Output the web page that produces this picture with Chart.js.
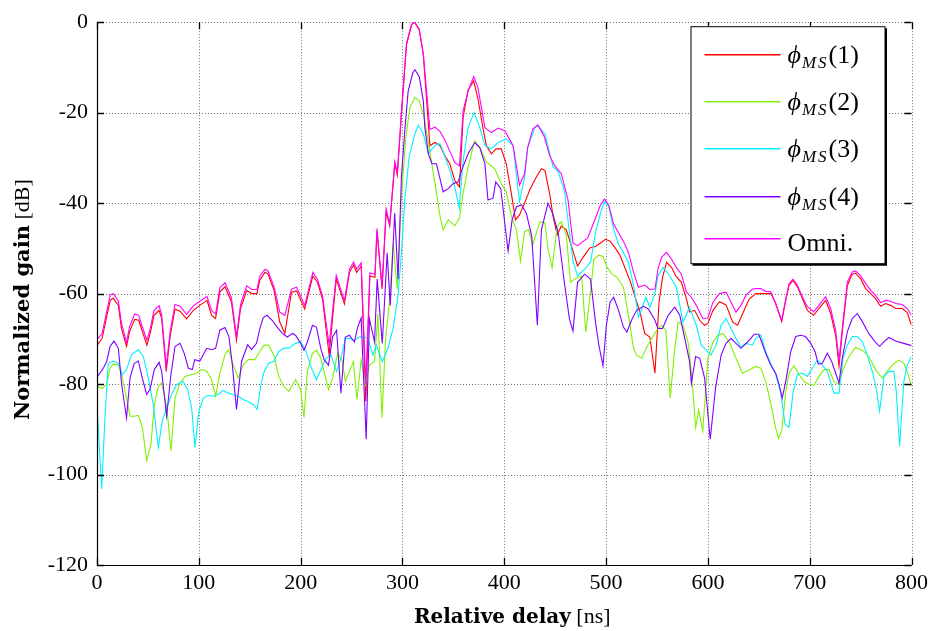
<!DOCTYPE html>
<html><head><meta charset="utf-8">
<script src="https://cdn.jsdelivr.net/npm/chart.js@4.4.0/dist/chart.umd.min.js"></script>
<style>html,body{margin:0;padding:0;background:#fff;}#wrap{width:933px;height:631px;}</style>
</head><body><div id="wrap"><canvas id="c" width="933" height="631"></canvas></div>
<script>
// ---- data ----
const delay1 = [0,5,13,16,21,24,29,32,37,41,44,49,52,56,61,63.5,68,72,76.6,81.5,88,94.6,101,108,112.6,116.5,120.7,125.7,132,137,141,147,152,157,160,165,168,174,179.5,184.5,191,196,204,212,216.5,221.5,228,235,243,248,252,255,259.5,264,268,273,275,280,284,287.5,292.5,295,299,304,309,312,316.5,320.5,324,327,332,337,341.6,346.5,351.4,356,359.6,364.5,370,374,379,382.5,387.4,392,397,402,407,411,415,420,425,431.5,436.5,440,444.6,448,452,456,461,466,472,477,484,489.6,494.5,499.4,504,509,514,519,523.7,528.6,533.4,538,543,548,552,555.5,559.4,564.3,568.5,574,579,582,587,592,596.8,600,605,611.4,617.9,624.4,629.2,634,640.6,647,652,657,662,666.6,672.5,676.5,679.7,683.6,688,692.8,697.7,704,709,715.7,720.6,725.5,728.8,732.7,737,741.8,745,750,755,760,764.7,769.7,774.5,779.5,784.4,791,795.8,800];
const gain1 = [-71.5,-69.9,-61.5,-61,-62.6,-67.7,-71.7,-68.4,-65.7,-65.9,-68,-71.4,-69,-64.8,-63.7,-65.5,-77.2,-69.2,-63.4,-63.9,-65.6,-63.7,-62.6,-61.5,-64.8,-65.5,-59.6,-58.5,-61.8,-70.3,-63.3,-59.3,-60,-60,-57,-55.3,-55.7,-59.4,-66.3,-68.8,-59.7,-59.4,-63.4,-56.1,-57.5,-61.2,-73.6,-56.8,-62.3,-55.3,-53.7,-55.3,-53.9,-83.8,-56.1,-56.4,-46.2,-59,-41.9,-45.1,-31.3,-33.8,-20.4,-5,-0.6,0,-1.7,-7.2,-18,-27.3,-26.6,-27.3,-29.5,-31.3,-35,-36.4,-21,-15,-13,-16.7,-23.3,-27.3,-29.1,-28,-28,-31.3,-37.9,-43.7,-42.6,-40,-37.1,-34.2,-32.4,-32.8,-37.9,-43,-47,-45.1,-45.9,-49.5,-53.9,-52.1,-49.9,-49.6,-48.8,-48,-48.4,-49.9,-51.7,-54.6,-57.2,-60.8,-64.1,-68.8,-69.6,-77.6,-61.9,-56.4,-53.1,-54.2,-56.1,-57.5,-61.2,-64.1,-63.7,-65.9,-67,-66.6,-63.7,-61.8,-62.5,-66.3,-67,-64.5,-61.2,-60,-60,-60,-60,-62.2,-66.2,-61.5,-58.2,-57.1,-58.5,-61.1,-63.7,-64.8,-63.3,-61.5,-64.4,-69.2,-76.1,-67,-58.2,-55.7,-55.5,-56.7,-58.9,-60,-61.1,-62.8,-62.2,-62.6,-63.3,-63.3,-64.2,-67];

const delay2 = [0,5,9.5,12.8,16,21,24.2,29,32.4,36.6,40.6,44.5,48.8,53,56.3,60.2,63.5,68.4,72.6,76.6,81.5,86.4,93,97.8,102.7,107.7,112.6,116.5,120.7,125.7,129,133.8,138.7,143.7,148.6,155,160,164,168.6,173.6,178.5,183.5,188.5,195,200,203.3,206.6,211.6,215.5,219.8,223,227.4,231.4,236.3,240.6,243.9,247.9,251.8,255.4,259.4,263.7,267.6,272.6,275.9,279.9,283.5,287.5,290.8,295,299,303.3,307.3,312.2,316.5,320.5,322,327,332,337,340,345,351.4,356,359.6,364.5,371,376,382.5,390.7,397,402,407,412,416,420,424,428,435,440,443,447,452,456,461,465,469,476,480,484,488,492.9,497,501,505.8,510.7,517,522,527,530,535,540,545,549.7,554.5,558.8,563,567.5,570.8,575.6,580.5,583.8,588,591,595,600,605,609.7,614.6,621,627.6,634,640.6,647,652,656.8,661.7,666.6,669.3,672.5,676.5,679.7,684.6,689.5,694.4,699.3,704,709,714,718.9,723.9,728.8,732.7,738.6,745,751.7,758,764.7,771.3,776.2,781,787.6,792.5,796.8,800];
const gain2 = [-80.5,-81,-80.1,-76.5,-75.6,-75.7,-77.9,-83.1,-87.1,-87.1,-86.9,-89.6,-97,-93.3,-84.5,-80.5,-79.8,-84.9,-94.8,-83.1,-79.8,-78.3,-77.9,-77.6,-76.8,-77.1,-79,-82.7,-77.6,-73.5,-72.4,-75.7,-78.7,-75.7,-74.6,-74.6,-72.8,-71.4,-71.4,-73.6,-78.3,-80.5,-81.6,-79,-81.2,-87.4,-77.2,-73.2,-72.5,-74.3,-77.2,-81.2,-78.7,-73.2,-74.7,-79.4,-77.2,-75,-83.4,-74.7,-80.1,-75.8,-75,-64.5,-87.4,-69.9,-61.2,-48.8,-59,-38.6,-25.5,-18.9,-16.6,-17.4,-20.4,-21.8,-28.8,-35.7,-43,-45.9,-43.7,-45,-43.3,-37.9,-32,-26.2,-27.7,-30.9,-32.4,-35.7,-37.5,-43,-45.9,-52.8,-46.3,-45.9,-49.2,-44.1,-44.4,-50.2,-54.3,-45.1,-44.1,-47,-57.5,-56.8,-56.1,-68.5,-61.2,-52.4,-51.5,-51.8,-54.2,-55.7,-56.4,-58.6,-64.8,-72.1,-73.6,-74.3,-71.8,-69.9,-68.1,-67,-68.1,-83.1,-72.1,-66.3,-67,-70.7,-77.2,-89.6,-85.8,-90.4,-74.3,-70.7,-69.2,-68.8,-70.7,-74.3,-77.6,-76.9,-76.1,-76.5,-79.4,-84.2,-89.7,-92,-90.4,-81.6,-77.6,-75.9,-77.9,-79.4,-80.1,-80.3,-78.3,-76.8,-76.8,-79.4,-80.1,-76.8,-73.9,-71.9,-72.5,-73.9,-76.8,-78.7,-77.2,-75.8,-74.7,-75.4,-77.9,-80.5];

const delay3 = [0,4.6,7.8,11,16,21,24.9,29,34,40.6,45.5,50.4,55.3,60.2,64.1,68.4,73.3,78.2,84.7,89,93,96.2,100,104.4,109.3,114.2,119.1,124,129,133.8,138.7,143.7,148.6,153.5,157.4,161,164.3,168.6,173.6,178.5,183.5,188.5,195,200,205,210,215.5,219.8,224.8,229.7,235.3,239.6,243.9,247.9,252.8,257.8,262.7,266,271,274.3,280.2,285.8,290.8,295.7,299,302.3,306.6,312.2,315.6,320.5,325.4,329,333.4,337,341.6,346.5,351.4,355.7,359.6,364.5,370.4,376,381,387.4,394,402,408.7,415,420,423,430,433,440,448,453,459,467.5,472,479,484.7,489.6,494.5,498.4,502.6,507.5,512.3,517,522,527,531.8,535,539,543,548,551,556,562.6,569,575.6,582,588.6,593.5,598.4,603,608,613,617.9,622.7,627.6,632.5,637.3,643.8,647,652,656.8,661.7,666.6,671.6,675.8,679.7,683.6,687.9,692.8,697.7,702.6,707.5,712.4,717.3,723.9,728.8,732.7,737,741.8,746.8,751.7,756.6,761.5,765.4,768.7,773,777.8,782.7,785,788.3,792.5,795.8,800];
const gain3 = [-84.5,-103.2,-87.5,-75.4,-74.9,-75.4,-77.9,-76.8,-73.5,-72.4,-73.9,-78.7,-84.5,-94,-88.2,-85.3,-82.3,-80.1,-79.4,-81.2,-85.3,-94,-86,-83.1,-82.5,-82.7,-82.3,-81.4,-82,-82.3,-82.7,-83.4,-83.9,-84.5,-85.6,-80.1,-77.2,-75.4,-75,-72.8,-72.1,-72,-71,-70.7,-72.5,-76.1,-79,-76.9,-74.3,-73.6,-77.2,-74.3,-69.9,-69.9,-70.3,-69.6,-69.6,-69.9,-73.6,-71.4,-75,-72.1,-67.7,-60.5,-51,-39.3,-29.8,-24.7,-22.8,-24.7,-29.1,-28,-27,-26.9,-29.5,-32.8,-36.4,-41.1,-30.6,-23.3,-20,-23.3,-27.3,-28,-26.6,-25.8,-27.3,-39.7,-34.2,-27.7,-23.3,-22.9,-24.7,-32,-33.1,-37.1,-52.8,-56.1,-54.6,-53.1,-46.6,-42.2,-39.6,-40.7,-45.8,-49.1,-50.9,-53.1,-58.2,-65.2,-63.4,-60.8,-63,-60,-56.1,-54.2,-56.1,-58.6,-66.3,-63,-67,-71.4,-72.5,-73.6,-71.4,-67,-65.5,-67.7,-69.9,-71.8,-71,-71.4,-69.9,-69.2,-72.8,-75.4,-77.9,-82,-88.9,-89.6,-82,-77.9,-77.6,-78.3,-76.5,-74.7,-75.8,-77.2,-82,-82,-74.3,-71.4,-69.5,-69.5,-70.6,-73.6,-77.2,-81,-86,-78.3,-77.2,-77.2,-81.6,-93.7,-79.4,-75.8,-73.9];

const delay4 = [0,6.2,9.5,12.8,16.7,21,24.2,29,32.4,36.6,40.6,44.5,48.8,52,56.3,61,63.5,68.4,72.6,76.6,81.5,85.7,89.7,93.6,96,101,107.7,112.6,116.5,120.7,125.7,129.6,132.9,137,142,148,151.8,156.7,160,163.3,167,172,177,182,187,192,195,200,203.3,206.6,211.6,215.5,219.8,223,227.4,231.4,235.3,239.6,243.9,247.9,252.8,256,259.4,264.4,267.6,272.6,275.2,280.2,285,288,292.4,295.7,299,302.3,305.6,310,312.2,316.5,320.5,322,325.5,329,333.4,340,345,349.8,354.7,358,364.5,371,376,381,384,389,391.7,396.6,400.5,403.8,407.7,412,417,421.7,427,432.5,436.5,443,448,453,459,464,467.5,472,479,484.7,489.6,492.9,497,500.3,504,507.5,512.3,517,520.5,525,530,536.7,541.6,548,551,555.5,561,567.5,572.4,577.3,582,583.8,588,592,596.8,602.3,607.5,613,617.9,622.7,627.6,632.5,639,645.5,650,656.8,661.7,666.6,670,673,676.5,681.4,686.3,691.2,696,701,705.2,708.5,712.4,717.3,721.6,725.5,728.8,732,737,741.8,746.8,751.7,758,764,768.7,773,777.8,784.4,792.5,800];
const gain4 = [-78.5,-76.5,-75,-71.7,-70.5,-72.1,-80.1,-87.5,-78.7,-75.4,-74.9,-78.7,-82.3,-81.2,-76.8,-75.2,-77.2,-87.1,-77.9,-71.7,-71,-73.2,-76.5,-76.8,-74.6,-74.9,-72.1,-72.4,-72.1,-68.1,-67.5,-69.5,-75.7,-85.6,-75,-71.3,-72.4,-71,-67.7,-65.3,-64.8,-65.9,-67.4,-68.8,-69.6,-68.8,-69.2,-71,-72.5,-70.7,-67,-67.4,-72.1,-74.6,-75.8,-69.6,-68.1,-82,-69.6,-69.2,-70.7,-67.4,-65.4,-92.2,-65.6,-70.7,-56.8,-71,-51,-62.6,-42.2,-56.8,-34.2,-24,-15.3,-11.3,-10.5,-12,-17.4,-23.3,-29.1,-31.3,-31.3,-37.5,-36.8,-35.7,-35.3,-32.8,-29.1,-26.6,-27.7,-31.3,-39.3,-38.9,-35.3,-36.8,-44.4,-50.6,-43.7,-40.8,-40.4,-42.2,-47.3,-67,-45.9,-40,-42.6,-46.6,-57.5,-65.6,-68.3,-57.5,-55.7,-56.8,-66.3,-71.4,-75.9,-67,-61.9,-60.8,-63.7,-67.4,-68.5,-65.9,-63.7,-62.8,-63.4,-65.9,-67.7,-67.7,-64.8,-63,-64.8,-69.9,-75,-79.8,-73.9,-74.3,-78.7,-92.2,-80.9,-73.6,-71,-69.9,-71,-72.1,-70.7,-69,-69,-73.2,-75.8,-77.6,-80.1,-83.1,-79.4,-72.8,-69.5,-69.2,-69.5,-71,-72.8,-75.6,-75.4,-73.2,-75,-77.6,-79.8,-74.3,-68.4,-65.5,-64.4,-66.2,-68.8,-70.6,-71.7,-70.6,-69.7,-70.5,-71,-71.5];

const delay5 = [0,5,13,16,21,24,29,32,37,41,44,49,52,56,61,63.5,68,72,76.6,81.5,88,94.6,101,108,112.6,116.5,120.7,125.7,132,137,141,147,152,157,160,165,168,174,179.5,184.5,191,196,204,212,216.5,221.5,228,235,243,248,252,255,259.5,264,268,273,275,280,284,287.5,292.5,295,299,304,309,312,316.5,320.5,324,327,332,337,341.6,346.5,351.4,356,359.6,364.5,370,374,381,387.4,394,400.5,408.7,415,420,423,428,433,439,444.6,449.5,456,462.6,467.5,472,482,489.6,494.5,498.4,502.6,507.5,512.3,517,522,527,531.8,538,543,548,551,554.5,559.4,564.3,569,574,579,583.8,588.6,595,600,605,611.4,617.9,622.7,627.6,632.5,637.3,643.8,647,652,656.8,661.7,666.6,672.5,676.5,679.7,683.6,688,692.8,697.7,704,709,715.7,720.6,725.5,728.8,732.7,737,741.8,745,750,755,760,764.7,769.7,774.5,779.5,784.4,791,795.8,800];
const gain5 = [-70.2,-68.8,-60.3,-60,-61.6,-66.5,-70.8,-67.3,-64.5,-64.8,-67,-70.3,-68,-63.7,-62.7,-64.6,-76,-68.2,-62.4,-62.8,-64.6,-62.7,-61.7,-60.6,-63.8,-64.5,-58.7,-57.6,-60.9,-69.5,-62.4,-58.3,-59.1,-59.1,-56.1,-54.6,-55,-58.6,-64.1,-64.8,-59,-58.6,-62.6,-55.3,-56.8,-60.5,-71.4,-56,-61.6,-54.6,-53,-54.6,-53.2,-80,-55.4,-55.8,-45.6,-58.4,-41.3,-44.6,-30.8,-33.3,-19.8,-4.6,-0.4,0,-1.5,-7,-16,-23.7,-23.2,-24.2,-26,-28.5,-31,-31.8,-19.6,-15.2,-12,-14.3,-23.3,-24.4,-23.4,-24,-27.3,-36,-33.5,-27.7,-23.6,-22.7,-25.1,-29.5,-31.7,-33.5,-39.3,-48.8,-49.4,-47.7,-43.3,-40.4,-39.1,-40.4,-44.7,-46.6,-48.4,-50.9,-55.3,-58.6,-58.1,-59.1,-59,-54.6,-52,-50.9,-52.4,-54.2,-55.7,-59.7,-60.8,-62.6,-65.5,-65.4,-61.9,-60,-59.7,-61.9,-64.1,-62.6,-60.4,-59,-58.9,-58.9,-59.5,-59.6,-62.2,-65.9,-61.1,-57.8,-56.8,-58.2,-60.7,-62.9,-64,-62.6,-60.7,-63.3,-68.1,-74.7,-66.2,-57.4,-55.2,-55,-56,-57.8,-59.3,-60.4,-62,-61.5,-61.7,-62.2,-62.4,-63.3,-64.8];

const xTicks = [0,100,200,300,400,500,600,700,800];
const yTicks = [0,-20,-40,-60,-80,-100,-120];
const seriesLabels = ['ϕMS(1)','ϕMS(2)','ϕMS(3)','ϕMS(4)','Omni.'];
const seriesColors = ['#ff0000','#80f000','#00f0ff','#8000ff','#ff00ff'];
const xTitle = ['Relative delay', ' [ns]'];
const yTitle = ['Normalized gain', ' [dB]'];

const delays = [delay1,delay2,delay3,delay4,delay5];
const gains = [gain1,gain2,gain3,gain4,gain5];

const SERIF = '"Liberation Serif","DejaVu Serif",serif';

const framePlugin = {
  id:'frame',
  beforeDatasetsDraw(chart){
    const {ctx, chartArea:a, scales:{x,y}} = chart;
    ctx.save();
    ctx.strokeStyle='#707070'; ctx.lineWidth=1; ctx.setLineDash([1,2]);
    ctx.beginPath();
    xTicks.forEach(v=>{ if(v===0) return; const p=Math.round(x.getPixelForValue(v))+0.5; ctx.moveTo(p,a.top); ctx.lineTo(p,a.bottom); });
    yTicks.forEach(v=>{ if(v===-120) return; const p=Math.round(y.getPixelForValue(v))+0.5; ctx.moveTo(a.left,p); ctx.lineTo(a.right,p); });
    ctx.stroke();
    ctx.restore();
  },
  afterDatasetsDraw(chart){
    const {ctx, chartArea:a, scales:{x,y}} = chart;
    ctx.save();
    // axes lines (left, bottom)
    ctx.strokeStyle='#000'; ctx.lineWidth=1.2; ctx.setLineDash([]);
    ctx.beginPath();
    ctx.moveTo(a.left+0.5,a.top); ctx.lineTo(a.left+0.5,a.bottom+0.5); ctx.lineTo(a.right,a.bottom+0.5);
    ctx.stroke();
    // inward ticks
    ctx.lineWidth=1.3;
    ctx.beginPath();
    const tl=7;
    xTicks.forEach(v=>{ const p=Math.round(x.getPixelForValue(v))+0.5; ctx.moveTo(p,a.bottom); ctx.lineTo(p,a.bottom-tl); ctx.moveTo(p,a.top); ctx.lineTo(p,a.top+tl); });
    yTicks.forEach(v=>{ const p=Math.round(y.getPixelForValue(v))+0.5; ctx.moveTo(a.left,p); ctx.lineTo(a.left+tl,p); ctx.moveTo(a.right,p); ctx.lineTo(a.right-tl,p); });
    ctx.stroke();

    // legend
    const L = a.right-221, T = a.top+4, R = a.right-27, B = a.top+241;
    ctx.fillStyle='#fff'; ctx.fillRect(L,T,R-L,B-T);
    ctx.strokeStyle='#000'; ctx.lineWidth=1;
    ctx.strokeRect(L+0.5,T+0.5,R-L,B-T);
    ctx.lineWidth=2;
    ctx.beginPath(); ctx.moveTo(R+1.5,T+2); ctx.lineTo(R+1.5,B+1.5); ctx.lineTo(L+2,B+1.5); ctx.stroke();
    const rowY = [28,75,122,170,212];
    seriesLabels.forEach((lab,i)=>{
      const ly = T+rowY[i];
      ctx.strokeStyle=seriesColors[i]; ctx.lineWidth=1.5;
      ctx.beginPath(); ctx.moveTo(L+14,ly+0.5); ctx.lineTo(L+90,ly+0.5); ctx.stroke();
      ctx.fillStyle='#000'; ctx.textAlign='left'; ctx.textBaseline='alphabetic';
      let tx = L+97;
      if(lab.startsWith('ϕMS')){
        const base = ly+9;
        ctx.font='italic 26px '+SERIF; ctx.fillText('ϕ',tx,base); tx+=ctx.measureText('ϕ').width+1;
        ctx.font='italic 17px '+SERIF; ctx.fillText('M',tx,base+5); tx+=ctx.measureText('M').width+2;
        ctx.fillText('S',tx,base+5); tx+=ctx.measureText('S').width+2;
        ctx.font='26px '+SERIF; ctx.fillText(lab.slice(3),tx,base);
      } else {
        ctx.font='26px '+SERIF; ctx.fillText(lab,tx,ly+13);
      }
    });

    // axis titles
    ctx.fillStyle='#000'; ctx.textBaseline='alphabetic'; ctx.textAlign='left';
    const nF='22px '+SERIF;
    let bF='bold 20px "DejaVu Serif",serif';
    ctx.font=bF; let w1=ctx.measureText(xTitle[0]).width; ctx.font=nF; let w2=ctx.measureText(xTitle[1]).width;
    let sx=(a.left+a.right)/2+8-(w1+w2)/2;
    ctx.font=bF; ctx.fillText(xTitle[0],sx,623); ctx.font=nF; ctx.fillText(xTitle[1],sx+w1,623);
    bF='bold 21px "DejaVu Serif",serif';
    ctx.translate(29,(a.top+a.bottom)/2+6); ctx.rotate(-Math.PI/2);
    ctx.font=bF; w1=ctx.measureText(yTitle[0]).width; ctx.font=nF; w2=ctx.measureText(yTitle[1]).width;
    sx=-(w1+w2)/2;
    ctx.font=bF; ctx.fillText(yTitle[0],sx,0); ctx.font=nF; ctx.fillText(yTitle[1],sx+w1,0);
    ctx.restore();
  }
};

const order = [5,4,3,2,1];
const datasets = seriesLabels.map((lab,i)=>({
  label: lab,
  data: delays[i].map((d,k)=>({x:d,y:gains[i][k]})),
  borderColor: seriesColors[i],
  borderWidth: 1.1,
  pointRadius: 0,
  fill: false,
  tension: 0,
  order: order[i]
}));

new Chart(document.getElementById('c'), {
  type:'line',
  data:{datasets},
  options:{
    responsive:false, animation:false, devicePixelRatio:1,
    layout:{padding:{top:17,right:21,left:0,bottom:0}},
    plugins:{legend:{display:false}, tooltip:{enabled:false}},
    scales:{
      x:{type:'linear', min:0, max:800,
        afterFit(s){ s.height=66; },
        afterBuildTicks(s){ s.ticks = xTicks.map(v=>({value:v})); },
        ticks:{font:{family:SERIF,size:22}, color:'#000', padding:5, maxRotation:0, autoSkip:false},
        grid:{display:false, drawTicks:false}, border:{display:false}},
      y:{type:'linear', min:-120, max:0,
        afterFit(s){ s.width=97; },
        afterBuildTicks(s){ s.ticks = yTicks.map(v=>({value:v})); },
        ticks:{font:{family:SERIF,size:22}, color:'#000', padding:9, autoSkip:false},
        grid:{display:false, drawTicks:false}, border:{display:false}}
    }
  },
  plugins:[framePlugin]
});
</script></body></html>
